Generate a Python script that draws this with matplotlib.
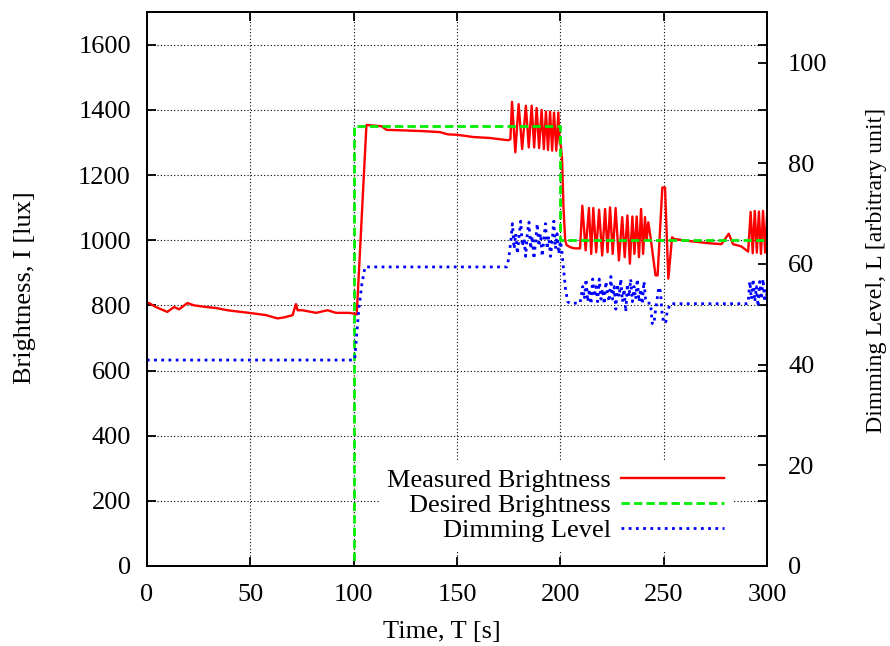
import matplotlib
matplotlib.use('Agg')
import matplotlib.pyplot as plt

plt.rcParams['font.family'] = ['Liberation Serif', 'DejaVu Serif']
plt.rcParams['font.size'] = 19

# measured brightness [lux]
meas_t = [0, 1.1, 4.3, 9.9, 13.2, 15.6, 19.6, 22.9, 28.5, 33.4, 39, 44, 49.5, 57.6, 63.2,
          66.4, 70.5, 72.1, 72.9, 75.3, 81.8, 87.4, 91.5, 97.9, 99.8, 101.5,
          106.2, 110, 113.5, 115.9, 125.5, 133.6, 141.7, 145.7, 149.7, 157.8, 165.8, 174.7, 175.8,
          176.6, 178.2, 179.8, 181.5, 183.3, 184.7, 186.1, 187.3, 188.5, 189.7, 190.9, 192,
          193, 194, 195, 196, 196.9, 198, 199, 199.6,
          200.2, 200.8, 201.5, 202.3, 203, 205, 207, 209.5,
          210.6, 212.2, 213.8, 214.9, 215.9, 217.3, 218.7, 220.2, 221.6, 222.8, 224, 225.3,
          226.7, 228.3, 229.9, 231.1, 232.4, 233.6, 234.8, 235.8, 236.9, 238, 239, 240,
          240.9, 241.7, 242.5, 243.6, 246, 247, 249.3, 250.6, 252.2, 254, 255,
          261.7, 271.4, 277.9, 281.4, 283.5, 287.5, 290.8,
          292, 293, 294, 295, 296, 297, 298, 299, 300]
meas_v = [808, 807, 795, 780, 795, 788, 807, 800, 795, 792, 785, 781, 777, 770, 760,
          763, 770, 804, 785, 785, 777, 785, 777, 777, 775, 772,
          1354, 1352, 1350, 1339, 1337, 1335, 1332, 1325, 1324, 1317, 1314, 1307, 1310,
          1425, 1270, 1418, 1280, 1413, 1285, 1413, 1285, 1406, 1283, 1400, 1280,
          1395, 1277, 1395, 1275, 1392, 1275, 1392, 1300,
          1290, 1250, 1100, 1000, 985, 978, 975, 975,
          1106, 969, 1099, 958, 1099, 963, 1094, 953, 1096, 963, 1101, 958,
          1099, 938, 1071, 948, 1076, 928, 1073, 958, 1073, 948, 1096, 958,
          1071, 1000, 1055, 1009, 892, 892, 1162, 1162, 882, 1009, 1004,
          998, 991, 988, 1020, 988, 981, 965,
          1087, 960, 1090, 962, 1088, 958, 1090, 962, 1085]

# desired brightness [lux]
des_t = [0, 100, 100, 200, 200, 300]
des_v = [0, 0, 1350, 1350, 1000, 1000]

# dimming level [arbitrary unit]
dim_t = [0, 100, 100.5, 101.5, 102.5, 104, 105.5, 174, 175,
         176, 176.8, 177.6, 178.4, 179.2, 180, 180.8, 181.6, 182.4, 183.2, 184, 184.8,
         185.6, 186.4, 187.2, 188, 188.8, 189.6, 190.4, 191.2, 192, 192.8, 193.6, 194.4,
         195.2, 196, 196.8, 197.6, 198.4, 199.2, 200, 200.6, 201.5, 202.5, 203.5, 204.5,
         209.5, 210.8, 211.6, 212.4, 213.2, 214, 214.8, 215.6, 216.4, 217.2, 218, 218.8,
         219.6, 220.4, 221.2, 222, 222.8, 223.6, 224.4, 225.2, 226, 226.8, 227.6, 228.4,
         229.2, 230, 230.8, 231.6, 232.4, 233.2, 234, 234.8, 235.6, 236.4, 237.2, 238,
         238.8, 239.6, 240.4, 241.2, 242, 243.6, 244.4, 245.2, 246, 247.6, 248.4, 249.2,
         250, 251, 251.6, 253.2, 290, 290.8, 291.6, 292.4, 293.2, 294, 294.8, 295.6,
         296.4, 297.2, 298, 298.8, 299.6, 300]
dim_v = [40.9, 40.9, 41, 46, 51, 56, 59.4, 59.4, 61,
         64.5, 68, 63, 66, 62, 65.5, 68.5, 63.5, 65, 61.5, 66, 68.3,
         63, 65.5, 61, 64.5, 68, 63.5, 66, 61.5, 65, 68, 63, 65.5,
         61.5, 64.5, 68.5, 63, 66, 62, 64.5, 63, 59, 55, 52.5, 52.2,
         52.2, 55.5, 53, 57, 52.5, 55, 52, 57, 53.5, 55.5, 52.5, 57,
         53, 55, 52, 56.5, 54, 52.5, 57.5, 53, 55.5, 51, 56, 53.5,
         57, 52.5, 55, 50.5, 56, 53.5, 57, 52.5, 55.5, 53, 57, 52.5,
         55, 52, 56.5, 53, 52.2, 52.2, 48.2, 48, 50.8, 55.4, 54.5, 50,
         48.2, 48.5, 50.5, 52.1, 52.1, 52.2, 56.5, 53, 57, 52.5, 55.5, 51.5,
         56.5, 53, 57, 52.5, 55, 53]

fig = plt.figure(figsize=(8.9, 6.46), dpi=100)
ax = fig.add_axes([0.165, 0.124, 0.697, 0.857])
ax2 = ax.twinx()

l1, = ax.plot(meas_t, meas_v, color='#ff0000', lw=1.7, label='Measured Brightness', zorder=3)
l2, = ax.plot(des_t, des_v, color='#00ee00', lw=2, dashes=(3, 1.5), label='Desired Brightness', zorder=3)
l3, = ax2.plot(dim_t, dim_v, color='#0000ff', lw=2, dashes=(1, 1.6), label='Dimming Level')

ax.set_xlim(0, 300)
ax.set_ylim(0, 1700)
ax2.set_ylim(0, 110)
ax.set_xticks([0, 50, 100, 150, 200, 250, 300])
ax.set_yticks(range(0, 1601, 200))
ax2.set_yticks(range(0, 101, 20))

ax.set_axisbelow(True)
ax.grid(True, color='black', linestyle=(0, (1, 2)), lw=0.8)

ax.tick_params(direction='in', length=6.5, width=1.3, top=True, right=True)
ax.tick_params(axis='y', pad=11.5)
ax.tick_params(axis='x', pad=13)
ax2.tick_params(direction='in', length=6.5, width=1.3, pad=15)
for a in (ax, ax2):
    for s in a.spines.values():
        s.set_linewidth(1.4)

ax.set_xlabel('Time, T [s]')
ax.set_ylabel('Brightness, I [lux]')
ax2.set_ylabel('Dimming Level, L [arbitrary unit]', fontsize=17.2)
ax.xaxis.set_label_coords(0.476, -0.119)
ax.xaxis.label.set_va('center')
ax.yaxis.set_label_coords(-0.197, 0.502)
ax.yaxis.label.set_va('center')
ax2.yaxis.set_label_coords(1.177, 0.534)
ax2.yaxis.label.set_va('center')

leg = ax.legend(handles=[l1, l2, l3], loc='lower right', bbox_to_anchor=(0.965, 0.005),
                markerfirst=False, frameon=True, facecolor='white', edgecolor='none',
                framealpha=1, fancybox=False, handlelength=3.9, labelspacing=0.05,
                borderpad=0.3, handletextpad=0.4, fontsize=19)
leg.set_zorder(2)

fig.savefig('out.png', dpi=100)
